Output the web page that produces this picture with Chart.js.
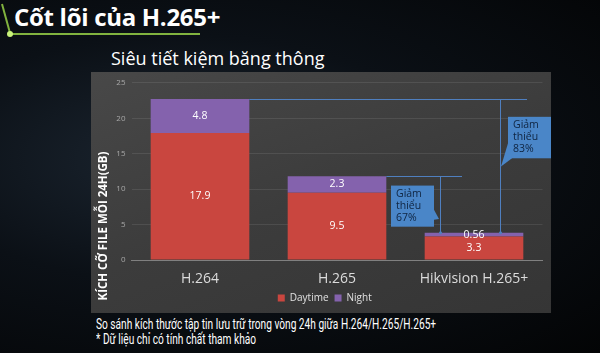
<!DOCTYPE html>
<html>
<head>
<meta charset="utf-8">
<script src="https://cdn.jsdelivr.net/npm/chart.js@4.4.0/dist/chart.umd.min.js"></script>
<style>
  html, body { margin: 0; padding: 0; }
  body {
    width: 600px; height: 353px; overflow: hidden; position: relative;
    background: radial-gradient(ellipse at 30% 45%, #1b2530 0%, #0b1016 45%, #030405 100%);
    font-family: "Noto Sans", sans-serif;
  }
  #title {
    position: absolute; left: 14px; top: 0px;
    color: #fff; font: bold 24px "Open Sans", sans-serif; letter-spacing: -0.3px;
  }
  #subtitle {
    position: absolute; left: 111px; top: 46px;
    color: #fff; font: 18px "Open Sans", sans-serif;
  }
  #panel {
    position: absolute; left: 91px; top: 72px; width: 460px; height: 241px;
    background: linear-gradient(160deg, #484848 0%, #3c3c3c 50%, #353535 100%);
  }
  .note {
    position: absolute; left: 96px; color: #fff;
    font: 15.5px "Roboto", sans-serif; white-space: nowrap;
    transform: scaleX(0.655); transform-origin: left top;
  }
  svg { position: absolute; left: 0; top: 0; }
</style>
</head>
<body>
<svg width="220" height="45">
  <line x1="2" y1="4" x2="10" y2="33" stroke="#9fdc4a" stroke-width="2" opacity="0.8"/>
  <line x1="10" y1="34" x2="200" y2="34" stroke="#9fdc4a" stroke-width="2" opacity="0.8"/>
  <circle cx="10" cy="34" r="3" fill="#c8f27a"/>
</svg>
<div id="title">Cốt lõi của H.265+</div>
<div id="subtitle">Siêu tiết kiệm băng thông</div>
<div id="panel"><canvas id="chart" width="460" height="241"></canvas></div>
<div class="note" style="top:315px">So sánh kích thước tập tin lưu trữ trong vòng 24h giữa H.264/H.265/H.265+</div>
<div class="note" style="top:330px">* Dữ liệu chỉ có tính chất tham khảo</div>
<script>
// dữ liệu biểu đồ
const categories = ['H.264', 'H.265', 'Hikvision H.265+'];
const daytime = [17.9, 9.5, 3.3];
const night = [4.8, 2.3, 0.56];
const yTicks = [0, 5, 10, 15, 20, 25];
const yTitle = 'KÍCH CỠ FILE MỖI 24H(GB)';

// chú thích "Giảm thiểu" (giá trị trục y cho hộp, độ lệch so với cột cuối)
const callouts = [
  { from: 0, text: ['Giảm', 'thiểu', '83%'], lineDx: 26, endDx: 53, boxTop: 20.2, boxBottom: 14.35, boxDx: 34, tipY: 13.2 },
  { from: 1, text: ['Giảm', 'thiểu', '67%'], lineDx: -34, endDx: -12, boxTop: 10.5, boxBottom: 4.7, boxDx: -83, tipY: 5.8 }
];

const calloutPlugin = {
  id: 'callouts',
  afterDatasetsDraw(chart) {
    const ctx = chart.ctx;
    const y = chart.scales.y;
    const tops = chart.getDatasetMeta(1).data;
    const target = tops[2];
    const targetTop = target.y;
    ctx.save();
    callouts.forEach(c => {
      const src = tops[c.from];
      const lx = Math.round(target.x + c.lineDx);
      const hy = Math.round(src.y);
      ctx.strokeStyle = '#4f7fbf';
      ctx.lineWidth = 1;
      ctx.beginPath();
      ctx.moveTo(src.x + src.width / 2, hy + 0.5);
      ctx.lineTo(target.x + c.endDx, hy + 0.5);
      ctx.moveTo(lx + 0.5, hy);
      ctx.lineTo(lx + 0.5, targetTop);
      ctx.stroke();
      ctx.fillStyle = '#4f7fbf';
      ctx.beginPath();
      ctx.arc(lx + 0.5, targetTop, 1.5, 0, Math.PI * 2);
      ctx.fill();

      // hộp
      const bx = Math.round(target.x + c.boxDx);
      const bt = y.getPixelForValue(c.boxTop);
      const bb = y.getPixelForValue(c.boxBottom);
      const bw = 43;
      ctx.fillStyle = '#4a86c8';
      ctx.fillRect(bx, bt, bw, bb - bt);
      // mũi nhọn
      const ty = y.getPixelForValue(c.tipY);
      ctx.beginPath();
      if (c.lineDx > 0) {
        ctx.moveTo(bx, bb - 15);
        ctx.lineTo(lx + 1, ty);
        ctx.lineTo(bx + 4, bb);
      } else {
        ctx.moveTo(bx + bw, bb - 17);
        ctx.lineTo(lx - 1, ty);
        ctx.lineTo(bx + bw, bb - 7);
      }
      ctx.fill();
      ctx.fillStyle = '#0f2440';
      ctx.font = '10.5px "Open Sans", sans-serif';
      ctx.textAlign = 'left';
      ctx.textBaseline = 'top';
      c.text.forEach((t, i) => ctx.fillText(t, bx + 5, bt + 3 + i * 12));
    });
    ctx.restore();
  }
};

const labelPlugin = {
  id: 'barLabels',
  afterDatasetsDraw(chart) {
    const ctx = chart.ctx;
    ctx.save();
    ctx.fillStyle = '#ffffff';
    ctx.font = '10.5px "Open Sans", sans-serif';
    ctx.textAlign = 'center';
    ctx.textBaseline = 'middle';
    chart.data.datasets.forEach((ds, di) => {
      chart.getDatasetMeta(di).data.forEach((bar, i) => {
        const cy = (bar.y + bar.base) / 2;
        ctx.fillText(String(ds.data[i]), bar.x, cy);
      });
    });
    // tiêu đề trục y (lệch xuống như bản gốc)
    ctx.translate(13, 154);
    ctx.rotate(-Math.PI / 2);
    ctx.font = 'bold 11.5px "Open Sans", sans-serif';
    ctx.fillText(yTitle, 0, 0);
    ctx.restore();
  }
};

new Chart(document.getElementById('chart'), {
  type: 'bar',
  data: {
    labels: categories,
    datasets: [
      { label: 'Daytime', data: daytime, backgroundColor: '#c9463f' },
      { label: 'Night', data: night, backgroundColor: '#8462ad' }
    ]
  },
  options: {
    responsive: false,
    animation: false,
    layout: { padding: { top: 10, right: 8.5, left: 16, bottom: 0 } },
    scales: {
      x: {
        stacked: true,
        categoryPercentage: 0.665,
        barPercentage: 1,
        grid: { display: false, drawTicks: false },
        border: { color: '#808080' },
        ticks: { color: '#dcdcdc', font: { family: 'Open Sans', size: 14 }, padding: 11 },
        afterFit: axis => { axis.height = 27; }
      },
      y: {
        stacked: true,
        min: 0,
        max: 25,
        afterBuildTicks: axis => { axis.ticks = yTicks.map(v => ({ value: v })); },
        afterFit: axis => { axis.width = 24.5; },
        grid: { color: 'rgba(255,255,255,0.09)', drawTicks: false },
        border: { display: false },
        ticks: { color: '#a8a8a8', font: { family: 'Open Sans', size: 8 }, padding: 6 }
      }
    },
    plugins: {
      legend: {
        position: 'bottom',
        labels: { color: '#e0e0e0', boxWidth: 7, boxHeight: 7, padding: 6, font: { family: 'Open Sans', size: 10 } }
      },
      tooltip: { enabled: false }
    }
  },
  plugins: [labelPlugin, calloutPlugin]
});
</script>
</body>
</html>
